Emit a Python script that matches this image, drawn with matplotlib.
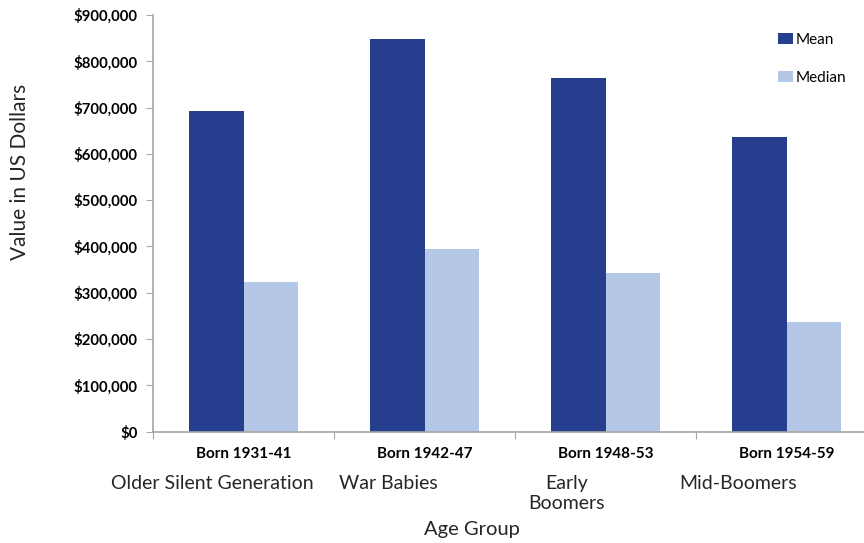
import matplotlib
matplotlib.use("Agg")
import matplotlib.pyplot as plt
from matplotlib.ticker import FuncFormatter
import numpy as np

plt.rcParams['font.family'] = ['Lato', 'DejaVu Sans']

# values
birth_years = ["Born 1931-41", "Born 1942-47", "Born 1948-53", "Born 1954-59"]
generations = ["Older Silent Generation", "War Babies", "Early\nBoomers", "Mid-Boomers"]
mean_values = [693000, 848000, 764000, 637000]
median_values = [323000, 394000, 342000, 237000]

dark_blue = "#253F8E"
light_blue = "#B4C7E7"
axis_gray = "#A6A6A6"

W, H = 864, 543
fig = plt.figure(figsize=(W / 100, H / 100), dpi=100)

# axes in pixel terms: left 153, top 15, bottom 431.5, right runs past the figure edge
left, top, bottom, right = 153, 15, 431.5, 877
ax = fig.add_axes([left / W, (H - bottom) / H, (right - left) / W, (bottom - top) / H])

x = np.arange(len(birth_years))
bw = 0.30
ax.bar(x - bw / 2, mean_values, bw, color=dark_blue, label="Mean")
ax.bar(x + bw / 2, median_values, bw, color=light_blue, label="Median")

ax.set_xlim(-0.5, len(birth_years) - 0.5)
ax.set_ylim(0, 900000)
ax.set_yticks(np.arange(0, 900001, 100000))
ax.yaxis.set_major_formatter(FuncFormatter(lambda v, p: f"${v:,.0f}"))
for lab in ax.get_yticklabels():
    lab.set_fontweight("bold")
    lab.set_fontsize(10.7)

# category boundary ticks, labels on minor ticks
ax.set_xticks(np.arange(-0.5, len(birth_years), 1.0))
ax.set_xticklabels([])
ax.set_xticks(x, minor=True)
ax.set_xticklabels(birth_years, minor=True, fontweight="bold", fontsize=11)
ax.tick_params(axis="x", which="minor", length=0, pad=11)
ax.tick_params(axis="x", which="major", length=5, color=axis_gray)
ax.tick_params(axis="y", length=5, color=axis_gray, pad=6)

for s in ["top", "right"]:
    ax.spines[s].set_visible(False)
for s in ["left", "bottom"]:
    ax.spines[s].set_color(axis_gray)
    ax.spines[s].set_linewidth(1.2)

# generation names under the birth years
gen_x = [212, 388, 567, 738]
for gx, g in zip(gen_x, generations):
    fig.text(gx / W, (H - 475) / H, g, ha="center", va="top", fontsize=14,
             color="#262626", multialignment="center", linespacing=1.22)

fig.text(472 / W, (H - 530) / H, "Age Group", ha="center", va="center",
         fontsize=14.5, color="#262626")
fig.text(20 / W, (H - 172) / H, "Value in US Dollars", ha="center", va="center",
         rotation=90, fontsize=15, color="#262626")

ax.legend(loc="upper left", bbox_to_anchor=(772 / W, (H - 27) / H),
          bbox_transform=fig.transFigure, frameon=False, fontsize=11,
          handlelength=0.95, handleheight=0.7, handletextpad=0.2,
          labelspacing=1.55, borderaxespad=0)

fig.savefig("out.png", dpi=100)
